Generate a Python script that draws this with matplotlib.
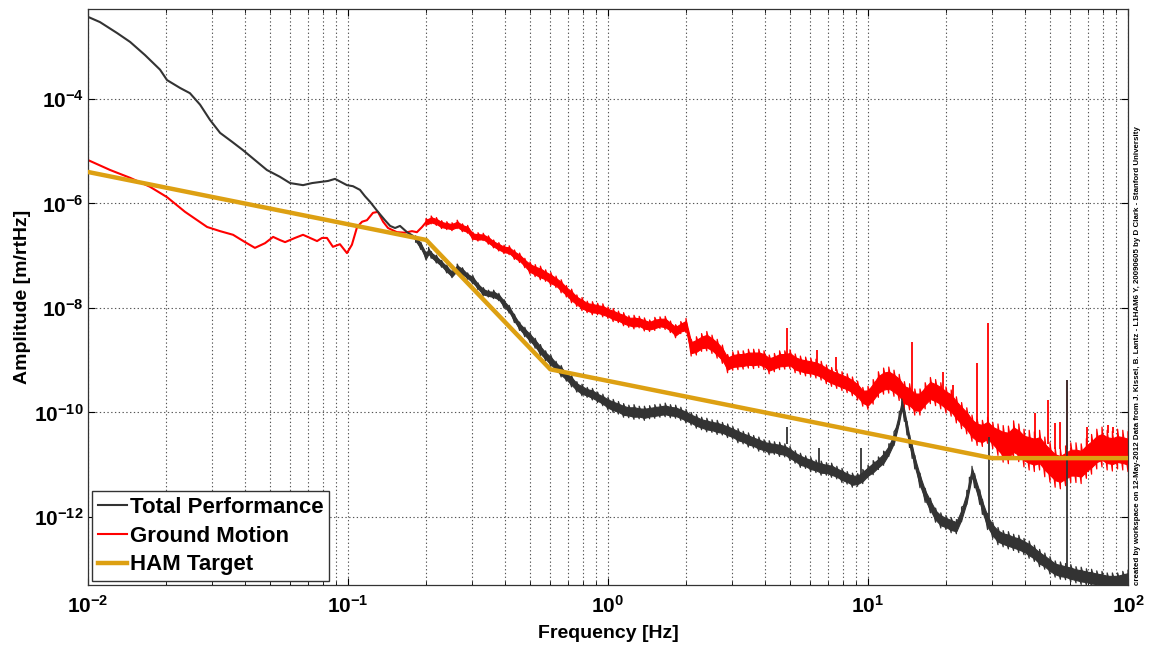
import matplotlib
matplotlib.use("Agg")
import matplotlib.pyplot as plt
import numpy as np
from matplotlib.ticker import NullLocator, LogLocator

# Low-frequency part of each spectrum: (log10 f [Hz], log10 amplitude [m/rtHz])
total_low = [
    (-2.000, -2.43), (-1.954, -2.53), (-1.888, -2.74), (-1.838, -2.91), (-1.781, -3.16),
    (-1.723, -3.44), (-1.696, -3.64), (-1.646, -3.79), (-1.608, -3.89), (-1.569, -4.11),
    (-1.531, -4.40), (-1.492, -4.65), (-1.446, -4.82), (-1.404, -4.98), (-1.358, -5.17),
    (-1.312, -5.36), (-1.262, -5.49), (-1.223, -5.61), (-1.173, -5.65), (-1.138, -5.61),
    (-1.108, -5.59), (-1.077, -5.57), (-1.050, -5.53), (-1.027, -5.59), (-1.004, -5.65),
    (-0.981, -5.67), (-0.954, -5.74), (-0.935, -5.86), (-0.915, -5.97), (-0.885, -6.16),
    (-0.858, -6.32), (-0.838, -6.43), (-0.819, -6.47), (-0.800, -6.43), (-0.773, -6.55),
    (-0.750, -6.62), (-0.740, -6.68),
]

ground_low = [
    (-2.000, -5.17), (-1.915, -5.36), (-1.838, -5.51), (-1.762, -5.68), (-1.696, -5.88),
    (-1.627, -6.16), (-1.542, -6.45), (-1.492, -6.53), (-1.442, -6.60), (-1.396, -6.74),
    (-1.358, -6.85), (-1.319, -6.76), (-1.288, -6.64), (-1.262, -6.70), (-1.242, -6.74),
    (-1.204, -6.66), (-1.173, -6.60), (-1.146, -6.66), (-1.119, -6.72), (-1.100, -6.66),
    (-1.081, -6.66), (-1.058, -6.83), (-1.031, -6.78), (-1.004, -6.95), (-0.985, -6.79),
    (-0.965, -6.45), (-0.946, -6.35), (-0.927, -6.32), (-0.904, -6.18), (-0.885, -6.16),
    (-0.865, -6.35), (-0.846, -6.47), (-0.812, -6.55), (-0.781, -6.56), (-0.754, -6.53),
    (-0.735, -6.55), (-0.715, -6.45), (-0.700, -6.36),
]

# Noisy part above ~0.18 Hz: (log10 f, low, high) of the scatter at each bin
total_band = [
    (-0.74, -6.74, -6.62), (-0.72, -6.88, -6.74), (-0.70, -7.08, -6.93), (-0.69, -6.99, -6.84),
    (-0.68, -7.05, -6.92), (-0.66, -7.14, -6.99), (-0.64, -7.22, -7.09), (-0.62, -7.33, -7.18),
    (-0.60, -7.42, -7.29), (-0.58, -7.31, -7.16), (-0.56, -7.38, -7.23), (-0.54, -7.45, -7.33),
    (-0.52, -7.54, -7.38), (-0.50, -7.65, -7.52), (-0.48, -7.77, -7.61), (-0.46, -7.79, -7.66),
    (-0.44, -7.82, -7.66), (-0.42, -7.86, -7.72), (-0.40, -8.00, -7.84), (-0.38, -8.10, -7.95),
    (-0.36, -8.28, -8.12), (-0.34, -8.43, -8.27), (-0.32, -8.55, -8.37), (-0.30, -8.66, -8.47),
    (-0.28, -8.77, -8.58), (-0.26, -8.91, -8.70), (-0.24, -9.01, -8.82), (-0.22, -9.12, -8.90),
    (-0.20, -9.21, -9.02), (-0.18, -9.32, -9.10), (-0.16, -9.40, -9.22), (-0.14, -9.51, -9.29),
    (-0.12, -9.61, -9.41), (-0.10, -9.68, -9.46), (-0.08, -9.71, -9.52), (-0.06, -9.76, -9.54),
    (-0.04, -9.81, -9.61), (-0.02, -9.87, -9.65), (0.00, -9.95, -9.71), (0.02, -10.00, -9.75),
    (0.04, -10.03, -9.79), (0.06, -10.09, -9.83), (0.08, -10.10, -9.86), (0.10, -10.13, -9.85),
    (0.12, -10.12, -9.88), (0.14, -10.15, -9.88), (0.16, -10.12, -9.87), (0.18, -10.11, -9.85),
    (0.20, -10.09, -9.84), (0.22, -10.08, -9.82), (0.24, -10.10, -9.85), (0.26, -10.11, -9.86),
    (0.28, -10.15, -9.90), (0.30, -10.20, -9.94), (0.32, -10.24, -10.00), (0.34, -10.30, -10.04),
    (0.36, -10.33, -10.09), (0.38, -10.37, -10.11), (0.40, -10.38, -10.14), (0.42, -10.42, -10.15),
    (0.44, -10.43, -10.19), (0.46, -10.48, -10.22), (0.48, -10.51, -10.27), (0.50, -10.58, -10.31),
    (0.52, -10.60, -10.36), (0.54, -10.66, -10.39), (0.56, -10.68, -10.44), (0.58, -10.74, -10.47),
    (0.60, -10.76, -10.52), (0.62, -10.81, -10.54), (0.64, -10.80, -10.56), (0.66, -10.84, -10.57),
    (0.68, -10.85, -10.60), (0.70, -10.92, -10.65), (0.72, -10.97, -10.73), (0.74, -11.05, -10.78),
    (0.76, -11.07, -10.83), (0.78, -11.13, -10.86), (0.80, -11.15, -10.91), (0.82, -11.20, -10.93),
    (0.84, -11.20, -10.96), (0.86, -11.24, -10.97), (0.88, -11.27, -11.03), (0.90, -11.34, -11.07),
    (0.92, -11.37, -11.13), (0.94, -11.43, -11.16), (0.96, -11.41, -11.17), (0.98, -11.36, -11.09),
    (1.00, -11.25, -11.01), (1.02, -11.19, -10.92), (1.04, -11.09, -10.85), (1.06, -11.01, -10.74),
    (1.08, -10.84, -10.60), (1.10, -10.63, -10.37), (1.12, -10.22, -9.98), (1.13, -9.96, -9.74),
    (1.14, -10.17, -9.93), (1.15, -10.43, -10.17), (1.16, -10.67, -10.43), (1.17, -10.88, -10.61),
    (1.18, -11.08, -10.82), (1.20, -11.44, -11.16), (1.22, -11.72, -11.45), (1.24, -11.92, -11.64),
    (1.26, -12.10, -11.83), (1.28, -12.21, -11.92), (1.30, -12.24, -11.97), (1.32, -12.30, -12.01),
    (1.34, -12.32, -12.05), (1.36, -12.09, -11.81), (1.38, -11.76, -11.49), (1.39, -11.51, -11.24),
    (1.40, -11.26, -11.03), (1.41, -11.44, -11.17), (1.43, -11.76, -11.48), (1.44, -11.95, -11.66),
    (1.46, -12.24, -11.93), (1.48, -12.41, -12.10), (1.50, -12.53, -12.20), (1.52, -12.57, -12.26),
    (1.54, -12.61, -12.28), (1.56, -12.64, -12.33), (1.58, -12.68, -12.35), (1.60, -12.72, -12.41),
    (1.62, -12.79, -12.46), (1.64, -12.85, -12.54), (1.66, -12.95, -12.62), (1.68, -13.00, -12.69),
    (1.70, -13.09, -12.76), (1.72, -13.15, -12.84), (1.74, -13.19, -12.86), (1.76, -13.20, -12.89),
    (1.78, -13.24, -12.91), (1.80, -13.26, -12.95), (1.82, -13.29, -12.96), (1.84, -13.30, -12.99),
    (1.86, -13.33, -13.00), (1.88, -13.34, -13.03), (1.90, -13.37, -13.04), (1.92, -13.38, -13.07),
    (1.94, -13.40, -13.07), (1.96, -13.38, -13.07), (1.98, -13.37, -13.04), (2.00, -13.33, -13.02),
]

ground_band = [
    (-0.70, -6.43, -6.29), (-0.68, -6.39, -6.24), (-0.66, -6.42, -6.27), (-0.64, -6.48, -6.33),
    (-0.62, -6.50, -6.35), (-0.60, -6.52, -6.37), (-0.58, -6.48, -6.32), (-0.56, -6.54, -6.39),
    (-0.54, -6.57, -6.42), (-0.52, -6.70, -6.55), (-0.50, -6.72, -6.56), (-0.48, -6.71, -6.57),
    (-0.46, -6.78, -6.62), (-0.44, -6.85, -6.70), (-0.42, -6.91, -6.75), (-0.40, -6.96, -6.80),
    (-0.38, -6.98, -6.81), (-0.36, -7.07, -6.89), (-0.34, -7.13, -6.95), (-0.32, -7.23, -7.05),
    (-0.30, -7.35, -7.12), (-0.28, -7.40, -7.17), (-0.26, -7.46, -7.20), (-0.24, -7.49, -7.27),
    (-0.22, -7.57, -7.32), (-0.20, -7.61, -7.39), (-0.18, -7.71, -7.46), (-0.16, -7.79, -7.57),
    (-0.14, -7.90, -7.64), (-0.12, -7.97, -7.75), (-0.10, -8.05, -7.80), (-0.08, -8.09, -7.87),
    (-0.06, -8.13, -7.88), (-0.04, -8.13, -7.91), (-0.02, -8.17, -7.92), (0.00, -8.20, -7.98),
    (0.02, -8.26, -8.01), (0.04, -8.28, -8.06), (0.06, -8.34, -8.09), (0.08, -8.37, -8.15),
    (0.10, -8.40, -8.14), (0.12, -8.38, -8.16), (0.14, -8.44, -8.19), (0.16, -8.45, -8.23),
    (0.18, -8.43, -8.18), (0.20, -8.39, -8.17), (0.22, -8.41, -8.16), (0.24, -8.47, -8.25),
    (0.26, -8.57, -8.32), (0.28, -8.49, -8.26), (0.30, -8.47, -8.20), (0.32, -8.92, -8.60),
    (0.34, -8.90, -8.55), (0.36, -8.83, -8.49), (0.38, -8.82, -8.45), (0.40, -8.87, -8.52),
    (0.42, -8.96, -8.60), (0.44, -9.06, -8.71), (0.46, -9.24, -8.89), (0.48, -9.19, -8.84),
    (0.50, -9.18, -8.82), (0.52, -9.17, -8.82), (0.54, -9.15, -8.79), (0.56, -9.16, -8.79),
    (0.58, -9.14, -8.79), (0.60, -9.18, -8.82), (0.62, -9.26, -8.90), (0.64, -9.22, -8.87),
    (0.66, -9.18, -8.82), (0.68, -9.17, -8.82), (0.70, -9.16, -8.80), (0.72, -9.24, -8.88),
    (0.74, -9.27, -8.92), (0.76, -9.30, -8.94), (0.78, -9.31, -8.96), (0.80, -9.34, -8.98),
    (0.82, -9.38, -9.02), (0.84, -9.45, -9.09), (0.86, -9.50, -9.14), (0.88, -9.54, -9.18),
    (0.90, -9.58, -9.22), (0.92, -9.62, -9.26), (0.94, -9.68, -9.32), (0.96, -9.76, -9.40),
    (0.98, -9.88, -9.52), (1.00, -9.94, -9.50), (1.02, -9.84, -9.37), (1.04, -9.71, -9.22),
    (1.06, -9.65, -9.15), (1.08, -9.63, -9.13), (1.10, -9.69, -9.19), (1.12, -9.77, -9.27),
    (1.14, -9.91, -9.41), (1.16, -9.95, -9.45), (1.18, -10.05, -9.55), (1.20, -10.05, -9.55),
    (1.22, -9.93, -9.43), (1.24, -9.83, -9.33), (1.26, -9.87, -9.37), (1.28, -9.93, -9.43),
    (1.30, -10.01, -9.51), (1.32, -10.07, -9.57), (1.34, -10.20, -9.70), (1.36, -10.31, -9.81),
    (1.38, -10.41, -9.91), (1.40, -10.55, -10.05), (1.42, -10.63, -10.13), (1.44, -10.65, -10.15),
    (1.46, -10.59, -10.09), (1.48, -10.69, -10.19), (1.50, -10.82, -10.22), (1.52, -10.95, -10.25),
    (1.54, -10.98, -10.26), (1.56, -10.88, -10.16), (1.58, -10.94, -10.22), (1.60, -11.04, -10.32),
    (1.62, -11.10, -10.34), (1.64, -11.13, -10.37), (1.66, -11.10, -10.34), (1.68, -11.23, -10.47),
    (1.70, -11.33, -10.57), (1.72, -11.43, -10.67), (1.74, -11.46, -10.70), (1.76, -11.40, -10.64),
    (1.78, -11.34, -10.58), (1.80, -11.34, -10.58), (1.82, -11.36, -10.60), (1.84, -11.26, -10.50),
    (1.86, -11.18, -10.42), (1.88, -11.08, -10.32), (1.90, -11.04, -10.28), (1.92, -11.10, -10.34),
    (1.94, -11.12, -10.36), (1.96, -11.08, -10.32), (1.98, -11.10, -10.34), (2.00, -11.13, -10.37),
]

# Narrow spectral lines: (log10 f, foot, peak)
total_lines = [
    (0.688, -10.60, -10.28), (0.810, -11.00, -10.68), (0.975, -11.20, -10.68),
    (1.465, -12.10, -10.47), (1.765, -13.00, -9.38),
]
ground_lines = [
    (0.688, -8.95, -8.38), (0.804, -9.10, -8.80), (0.877, -9.20, -8.94),
    (1.169, -9.70, -8.65), (1.288, -9.60, -9.23), (1.327, -9.70, -9.47),
    (1.419, -10.30, -9.05), (1.462, -10.30, -8.29), (1.642, -10.50, -10.01),
    (1.692, -10.60, -9.76), (1.719, -10.70, -10.20), (1.738, -10.70, -10.18),
    (1.765, -10.70, -9.38), (1.842, -10.60, -10.28), (1.923, -10.40, -10.24),
    (1.942, -10.40, -10.28),
]

# HAM isolation target: corner frequencies [Hz] and amplitudes [m/rtHz]
target_freq = [0.01, 0.2, 0.6, 30.0, 100.0]
target_amp = [4.0e-6, 2.0e-7, 6.7e-10, 1.34e-11, 1.34e-11]

y_ticks = [1e-12, 1e-10, 1e-8, 1e-6, 1e-4]
x_ticks = [1e-2, 1e-1, 1e0, 1e1, 1e2]

credit = ("created by workspace on 12-May-2012 Data from J. Kissel, B. Lantz - "
          "L1HAM6 Y, 20090605 by D Clark - Stanford University")

BLACK = '#333333'
RED = '#ff0000'
GOLD = '#dda012'

plt.rcParams['font.family'] = ['Liberation Sans', 'DejaVu Sans']
plt.rcParams['mathtext.default'] = 'regular'
plt.rcParams['axes.unicode_minus'] = False


def draw_spectrum(ax, low, band, lines, color, label, z):
    lo = np.array(low)
    ax.plot(10 ** lo[:, 0], 10 ** lo[:, 1], color=color, lw=1.5, label=label, zorder=z)

    # noisy region: a solid core plus a trace that runs low -> high in every bin
    b = np.array(band)
    mid = b[:, 1:3].mean(axis=1)
    half = (b[:, 2] - b[:, 1]) / 2
    ax.fill_between(10 ** b[:, 0], 10 ** (mid - 0.65 * half), 10 ** (mid + 0.65 * half),
                    color=color, lw=0.8, zorder=z)
    fx = np.repeat(b[:, 0], 2)
    fy = b[:, 1:3].ravel()
    ax.plot(10 ** fx, 10 ** fy, color=color, lw=0.9, zorder=z)

    ln = np.array(lines)
    ax.vlines(10 ** ln[:, 0], 10 ** ln[:, 1], 10 ** ln[:, 2], color=color, lw=1.3, zorder=z)


fig = plt.figure(figsize=(11.49, 6.49), dpi=100)
ax = fig.add_axes([0.0766, 0.0986, 0.9051, 0.8875])
ax.set_xscale('log')
ax.set_yscale('log')

draw_spectrum(ax, total_low, total_band, total_lines, BLACK, 'Total Performance', 3)
draw_spectrum(ax, ground_low, ground_band, ground_lines, RED, 'Ground Motion', 2)
ax.plot(target_freq, target_amp, color=GOLD, lw=3.2, label='HAM Target', zorder=4)

ax.set_xlim(1e-2, 1e2)
ax.set_ylim(5.0e-14, 5.25e-3)
ax.set_xticks(x_ticks)
ax.set_yticks(y_ticks)
ax.xaxis.set_minor_locator(LogLocator(base=10, subs=np.arange(2, 10)))
ax.yaxis.set_minor_locator(NullLocator())

grid_kw = dict(color='#555555', lw=0.8, ls=(0, (1.2, 2.2)))
ax.grid(True, which='both', axis='x', **grid_kw)
ax.grid(True, which='major', axis='y', **grid_kw)
ax.set_axisbelow(True)

ax.tick_params(which='both', direction='in', top=True, right=True, labelsize=15)
ax.tick_params(axis='x', pad=7)
ax.tick_params(axis='y', pad=3)
ax.tick_params(which='major', length=5)
ax.tick_params(which='minor', length=3)
for lbl in ax.get_xticklabels() + ax.get_yticklabels():
    lbl.set_fontweight('bold')
for sp in ax.spines.values():
    sp.set_color(BLACK)
    sp.set_linewidth(0.9)

ax.set_xlabel('Frequency [Hz]', fontsize=14, fontweight='bold', labelpad=6)
ax.set_ylabel('Amplitude [m/rtHz]', fontsize=14, fontweight='bold', labelpad=2)

leg = ax.legend(loc='lower left', bbox_to_anchor=(0.004, 0.007), borderaxespad=0,
                fancybox=False, framealpha=1, edgecolor=BLACK,
                prop=dict(size=16, weight='bold'), handlelength=1.3,
                handletextpad=0.15, labelspacing=0.35, borderpad=0.25)
leg.get_frame().set_linewidth(1.0)

fig.text(0.9896, 0.0986, credit, rotation=90, ha='center', va='bottom',
         fontsize=5.7, fontweight='bold')

fig.savefig('out.png', dpi=100)
